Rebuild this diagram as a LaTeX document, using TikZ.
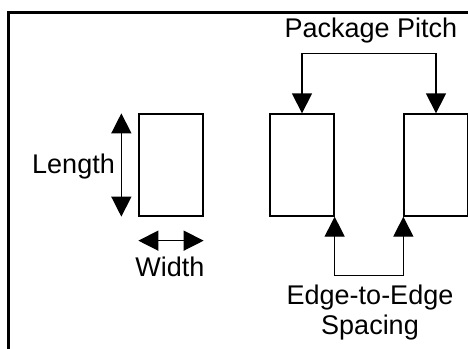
\documentclass[tikz,border=0pt]{standalone}
\usepackage{fontspec}
\setmainfont{Liberation Sans}
\usetikzlibrary{arrows.meta}

\begin{document}
\begin{tikzpicture}[
        x=1pt, y=-1pt,
        pkg/.style = {draw, line width=1.3pt, minimum width=64pt, minimum height=102pt, inner sep=0pt},
        lbl/.style = {inner sep=0pt, font=\fontsize{27}{31}\selectfont},
        dim/.style = {line width=1.3pt, {Triangle[width=20pt,length=20pt]}-{Triangle[width=20pt,length=20pt]}},
        ]

        \useasboundingbox (0,0) rectangle (468,348);
        \draw[line width=3pt] (8,360) -- (8,12) -- (480,12);

        \node (pkgA) at (171,165) [pkg] {};
        \node (pkgB) at (302,165) [pkg] {};
        \node (pkgC) at (436,165) [pkg] {};

        \coordinate (lenT) at ([xshift=-17pt]pkgA.north west);
        \coordinate (lenB) at ([xshift=-17pt]pkgA.south west);
        \coordinate (widL) at ([yshift=-24pt]pkgA.south west);
        \coordinate (widR) at ([yshift=-24pt]pkgA.south east);

        \draw[dim] (lenT) -- (lenB);
        \draw[dim] (widL) -- (widR);
        \draw[dim] (pkgB.north) -- ++(0,-60) -| (pkgC.north);
        \draw[dim] (pkgB.south east) -- ++(0,59) -| (pkgC.south west);

        \node (length) at (115,173) [lbl, anchor=base east] {Length};
        \node (width) at (170,276) [lbl, anchor=base] {Width};
        \node (pitch) at (371,37) [lbl, anchor=base] {Package Pitch};
        \node (edge) at (370,304) [lbl, anchor=base] {Edge-to-Edge};
        \node (spacing) at (370,334) [lbl, anchor=base] {Spacing};
    \end{tikzpicture}
\end{document}
